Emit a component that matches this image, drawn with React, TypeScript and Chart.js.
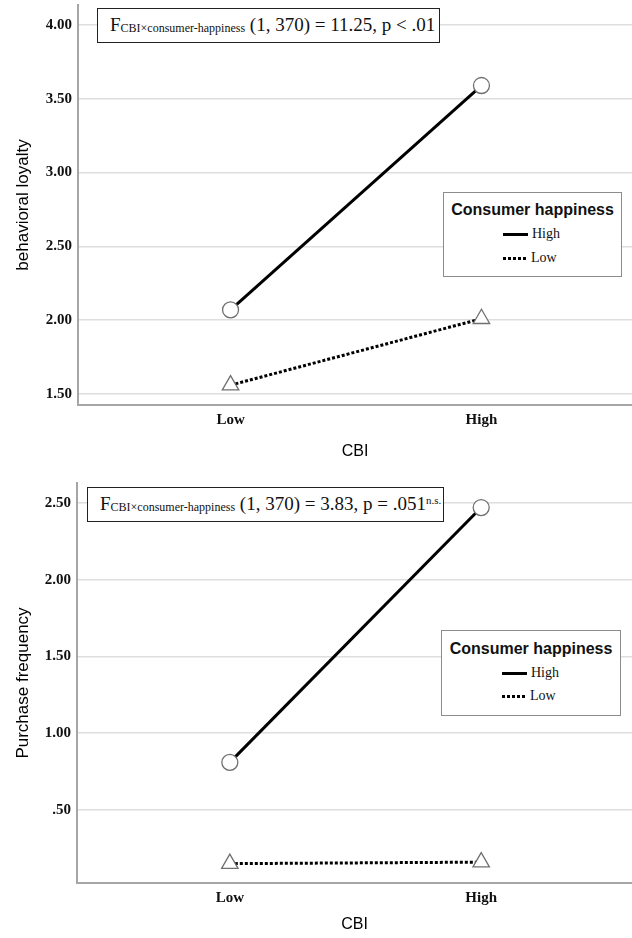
import React, { useEffect, useRef } from 'react';
import { Chart, registerables } from 'chart.js';

Chart.register(...registerables);

// ---------- data ----------
const categories = ['Low', 'High'];
const seriesNames = ['High', 'Low'];
const legendTitle = 'Consumer happiness';
const xTitle = 'CBI';

const loyaltyTitle = 'behavioral loyalty';
const loyaltyHigh = [2.07, 3.59];
const loyaltyLow = [1.56, 2.01];
const loyaltyTicks = [1.5, 2.0, 2.5, 3.0, 3.5, 4.0];
const loyaltyTickLabels = ['1.50', '2.00', '2.50', '3.00', '3.50', '4.00'];
const loyaltyRange = [1.4255, 4.1355];

const freqTitle = 'Purchase frequency';
const freqHigh = [0.81, 2.47];
const freqLow = [0.15, 0.16];
const freqTicks = [0.5, 1.0, 1.5, 2.0, 2.5];
const freqTickLabels = ['.50', '1.00', '1.50', '2.00', '2.50'];
const freqRange = [0.024, 2.63];

const statSubscript = 'CBI×consumer-happiness';
const loyaltyStat = ' (1, 370) = 11.25, p < .01';
const freqStat = ' (1, 370) = 3.83, p = .051';
const freqStatSup = 'n.s.';

const xRange = [-0.608, 1.6];

const SERIF = '"Liberation Serif", "Times New Roman", serif';
const SANS = '"Liberation Sans", Arial, sans-serif';

type PanelProps = {
  top: number;
  height: number;
  areaTop: number;
  axisWidth: number;
  xAxisHeight: number;
  xTitleBottom: number;
  yTitle: string;
  yRange: number[];
  ticks: number[];
  tickLabels: string[];
  high: number[];
  low: number[];
  stat: React.ReactNode;
  statBox: { left: number; top: number; width: number; height: number; padLeft: number };
  legendBox: { left: number; top: number; width: number; height: number; rows: number[]; itemLeft: number };
};

function Panel(p: PanelProps) {
  const ref = useRef<HTMLCanvasElement | null>(null);
  useEffect(() => {
    if (!ref.current) return;
    const chart = new Chart(ref.current, {
      type: 'line',
      data: {
        datasets: [
          {
            label: seriesNames[0],
            data: p.high.map((v, i) => ({ x: i, y: v })),
            borderColor: '#000',
            borderWidth: 3,
            pointStyle: 'circle',
            pointRadius: 8,
            pointBackgroundColor: '#fff',
            pointBorderColor: '#707070',
            pointBorderWidth: 1.3,
            fill: false,
            tension: 0,
          },
          {
            label: seriesNames[1],
            data: p.low.map((v, i) => ({ x: i, y: v })),
            borderColor: '#000',
            borderWidth: 3,
            borderDash: [3, 2],
            pointStyle: 'triangle',
            pointRadius: 9.5,
            pointBackgroundColor: '#fff',
            pointBorderColor: '#707070',
            pointBorderWidth: 1.3,
            fill: false,
            tension: 0,
          },
        ],
      },
      options: {
        animation: false,
        responsive: false,
        maintainAspectRatio: false,
        layout: { autoPadding: false, padding: { top: p.areaTop, left: 0, right: 0, bottom: 0 } },
        plugins: { legend: { display: false }, tooltip: { enabled: false } },
        scales: {
          x: {
            type: 'linear',
            min: xRange[0],
            max: xRange[1],
            afterBuildTicks: (s: any) => {
              s.ticks = categories.map((_, i) => ({ value: i }));
            },
            afterFit: (s: any) => {
              s.height = p.xAxisHeight;
              s.paddingLeft = 0;
              s.paddingRight = 0;
              s.paddingTop = 0;
              s.paddingBottom = 0;
            },
            ticks: {
              callback: (v: any) => categories[v as number] ?? '',
              font: { family: SERIF, size: 15, weight: 'bold' },
              color: '#111',
              padding: 6,
              maxRotation: 0,
              autoSkip: false,
            },
            grid: { display: false, drawTicks: false },
            border: { display: true, color: '#a6a6a6', width: 2 },
            title: {
              display: true,
              text: xTitle,
              font: { family: SANS, size: 16 },
              color: '#000',
              padding: { top: 0, bottom: p.xTitleBottom },
            },
          },
          y: {
            type: 'linear',
            min: p.yRange[0],
            max: p.yRange[1],
            afterBuildTicks: (s: any) => {
              s.ticks = p.ticks.map((v) => ({ value: v }));
            },
            afterFit: (s: any) => {
              s.width = p.axisWidth;
              s.paddingLeft = 0;
              s.paddingRight = 0;
              s.paddingTop = 0;
              s.paddingBottom = 0;
            },
            ticks: {
              callback: (v: any) => {
                const i = p.ticks.indexOf(v as number);
                return i >= 0 ? p.tickLabels[i] : '';
              },
              font: { family: SERIF, size: 15, weight: 'bold' },
              color: '#111',
              padding: 6,
              autoSkip: false,
            },
            grid: { display: true, drawTicks: false, color: '#dedede', lineWidth: 1.5 },
            border: { display: true, color: '#a6a6a6', width: 2 },
            title: {
              display: true,
              text: p.yTitle,
              font: { family: SANS, size: 17 },
              color: '#000',
              padding: { top: 13, bottom: 0 },
            },
          },
        },
      },
    } as any);
    return () => chart.destroy();
  }, []);

  const sb = p.statBox;
  const lb = p.legendBox;
  const rowStyle = (center: number): React.CSSProperties => ({
    position: 'absolute',
    left: lb.itemLeft,
    top: center - 9,
    height: 18,
    display: 'flex',
    alignItems: 'center',
    gap: 4,
    font: `14px ${SERIF}`,
    color: '#111',
  });
  return (
    <div style={{ position: 'absolute', left: 0, top: p.top, width: 632, height: p.height }}>
      <canvas ref={ref} width={632} height={p.height} style={{ display: 'block' }} />
      <div
        style={{
          position: 'absolute',
          left: sb.left,
          top: sb.top,
          width: sb.width,
          height: sb.height,
          boxSizing: 'border-box',
          border: '1.5px solid #222',
          background: '#fff',
          paddingLeft: sb.padLeft,
          font: `19px ${SERIF}`,
          lineHeight: `${sb.height - 3}px`,
          color: '#111',
          whiteSpace: 'nowrap',
        }}
      >
        {p.stat}
      </div>
      <div
        style={{
          position: 'absolute',
          left: lb.left,
          top: lb.top,
          width: lb.width,
          height: lb.height,
          boxSizing: 'border-box',
          border: '1px solid #8c8c8c',
          background: '#fff',
        }}
      >
        <div
          style={{
            position: 'absolute',
            left: 0,
            right: 0,
            top: lb.rows[0] - 9,
            height: 18,
            lineHeight: '18px',
            textAlign: 'center',
            font: `bold 16px ${SANS}`,
            color: '#111',
          }}
        >
          {legendTitle}
        </div>
        <div style={rowStyle(lb.rows[1])}>
          <span style={{ display: 'inline-block', width: 25, height: 3, background: '#000' }} />
          <span>{seriesNames[0]}</span>
        </div>
        <div style={rowStyle(lb.rows[2])}>
          <span
            style={{
              display: 'inline-block',
              width: 24,
              height: 3,
              background: 'repeating-linear-gradient(90deg, #000 0 3px, transparent 3px 5px)',
            }}
          />
          <span>{seriesNames[1]}</span>
        </div>
      </div>
    </div>
  );
}

function Stat({ text, sup }: { text: string; sup?: string }) {
  return (
    <span>
      F
      <span style={{ fontSize: 12, position: 'relative', top: 1 }}>{statSubscript}</span>
      {text}
      {sup ? <span style={{ fontSize: 11, position: 'relative', top: -6 }}>{sup}</span> : null}
    </span>
  );
}

export default function App() {
  return (
    <div style={{ position: 'absolute', left: 0, top: 0, width: 632, height: 938, background: '#fff' }}>
      <Panel
        top={0}
        height={468}
        areaTop={5}
        axisWidth={78}
        xAxisHeight={63}
        xTitleBottom={7}
        yTitle={loyaltyTitle}
        yRange={loyaltyRange}
        ticks={loyaltyTicks}
        tickLabels={loyaltyTickLabels}
        high={loyaltyHigh}
        low={loyaltyLow}
        stat={<Stat text={loyaltyStat} />}
        statBox={{ left: 97, top: 8, width: 343, height: 35, padLeft: 12 }}
        legendBox={{ left: 443, top: 192, width: 179, height: 85, rows: [17, 41, 65], itemLeft: 59 }}
      />
      <Panel
        top={468}
        height={470}
        areaTop={15}
        axisWidth={77}
        xAxisHeight={55}
        xTitleBottom={4}
        yTitle={freqTitle}
        yRange={freqRange}
        ticks={freqTicks}
        tickLabels={freqTickLabels}
        high={freqHigh}
        low={freqLow}
        stat={<Stat text={freqStat} sup={freqStatSup} />}
        statBox={{ left: 87, top: 19, width: 357, height: 35, padLeft: 12 }}
        legendBox={{ left: 441, top: 162, width: 180, height: 86, rows: [18, 42, 65], itemLeft: 60 }}
      />
    </div>
  );
}
